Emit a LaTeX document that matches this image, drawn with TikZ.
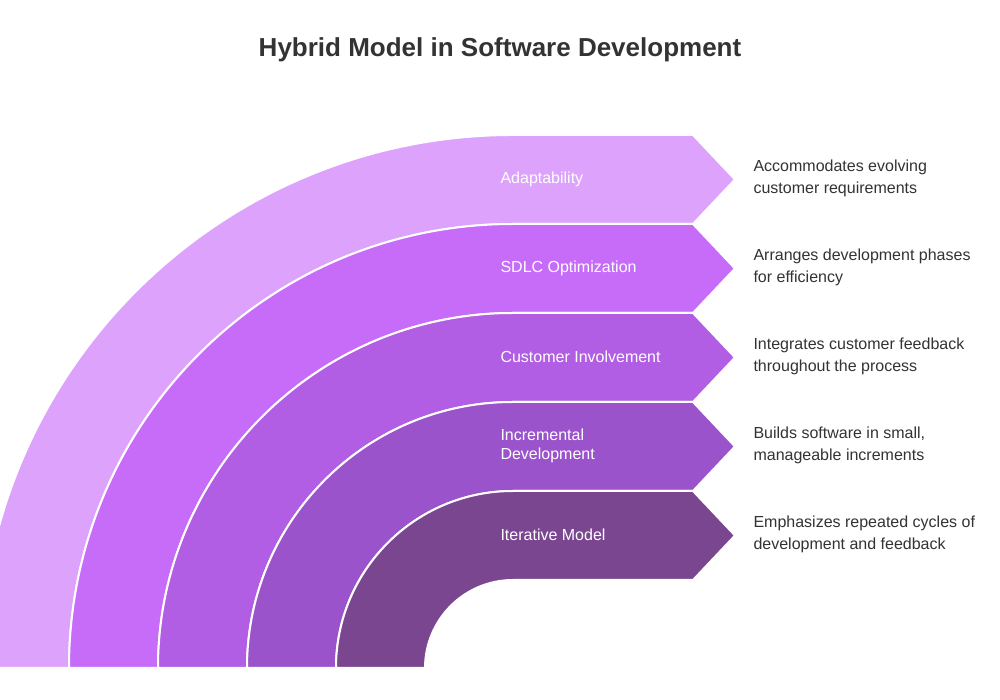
\documentclass[tikz,border=0pt]{standalone}
\usepackage{fontspec}
\setmainfont{Liberation Sans}
\definecolor{c1}{HTML}{DDA2FC}
\definecolor{c2}{HTML}{C76CF9}
\definecolor{c3}{HTML}{B15DE4}
\definecolor{c4}{HTML}{9B53CB}
\definecolor{c5}{HTML}{7A4690}
\definecolor{tx}{HTML}{333333}
\tikzset{band/.style={draw=white,line width=2pt,line join=round},
lab/.style={anchor=west,text=white,font=\fontsize{16}{19}\selectfont,align=left},
desc/.style={anchor=west,text=tx,font=\fontsize{16}{22}\selectfont,align=left}}
\newcommand{\bandshape}[2]{%
(513-#1,32) arc[start angle=180,end angle=90,radius=#1] -- (693,32+#1) -- (735,32+#1-44.5) -- (693,32+#1-89) -- (513,32+#1-89) arc[start angle=90,end angle=180,radius=#1-89] -- cycle}
\begin{document}
\begin{tikzpicture}[x=1pt,y=1pt]
\useasboundingbox (0,0) rectangle (1000,700);
\clip (0,0) rectangle (1000,700);
\fill[white] (0,0) rectangle (1000,700);
\node[text=tx,font=\bfseries\fontsize{26}{30}\selectfont] (title) at (500,650) {Hybrid Model in Software Development};
\path[band,fill=c1] \bandshape{533}{};
\path[band,fill=c2] \bandshape{444}{};
\path[band,fill=c3] \bandshape{355}{};
\path[band,fill=c4] \bandshape{266}{};
\path[band,fill=c5] \bandshape{177}{};
\node[lab] (l1) at (497,521) {Adaptability};
\node[lab] (l2) at (497,432) {SDLC Optimization};
\node[lab] (l3) at (497,343) {Customer Involvement};
\node[lab] (l4) at (497,254) {Incremental\\Development};
\node[lab] (l5) at (497,165) {Iterative Model};
\node[desc] (d1) at (750,522) {Accommodates evolving\\customer requirements};
\node[desc] (d2) at (750,433) {Arranges development phases\\for efficiency};
\node[desc] (d3) at (750,344) {Integrates customer feedback\\throughout the process};
\node[desc] (d4) at (750,255) {Builds software in small,\\manageable increments};
\node[desc] (d5) at (750,166) {Emphasizes repeated cycles of\\development and feedback};
\end{tikzpicture}
\end{document}
